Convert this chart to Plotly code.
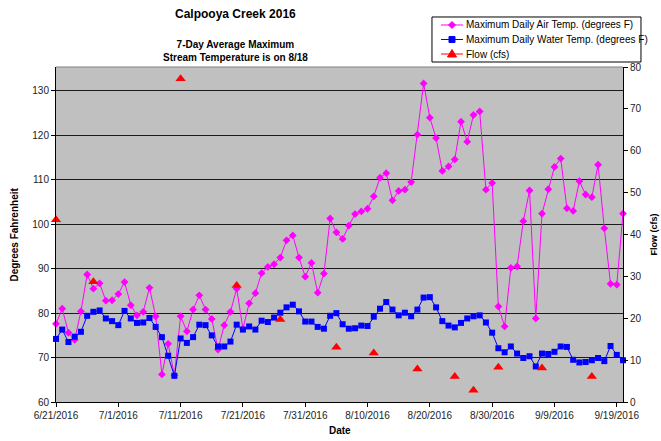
import plotly.graph_objects as go
import pandas as pd

start_date = "2016-06-21"

air_temp = [77.6, 81.0, 75.6, 74.0, 80.4, 88.7, 85.5, 86.7, 82.8, 82.9,
            84.3, 87.0, 81.8, 79.5, 80.3, 85.7, 79.3, 66.2, 73.1, 66.0,
            79.3, 75.9, 80.8, 84.0, 80.8, 78.7, 71.8, 77.3, 80.3, 85.5,
            76.5, 82.2, 84.5, 89.0, 90.4, 91.0, 92.5, 96.4, 97.5, 92.5,
            88.2, 91.3, 84.6, 88.9, 101.3, 98.2, 96.7, 99.7, 102.3, 102.9,
            103.5, 106.3, 110.5, 111.5, 105.4, 107.5, 107.8, 109.5, 120.2, 131.7,
            124.0, 119.4, 112.0, 113.0, 114.6, 123.1, 118.6, 124.6, 125.4, 107.8,
            109.3, 81.5, 77.0, 90.2, 90.5, 100.7, 107.6, 78.8, 102.4, 107.9,
            112.9, 114.8, 103.6, 103.0, 109.7, 106.7, 106.1, 113.4, 99.1, 86.6,
            86.4, 102.4]

water_temp = [74.2, 76.3, 73.5, 74.7, 75.8, 79.4, 80.3, 80.6, 78.8, 78.2,
              77.3, 80.5, 78.8, 77.8, 77.9, 78.9, 76.9, 74.6, 70.4, 65.9,
              74.3, 73.3, 74.6, 77.4, 77.3, 75.0, 72.5, 72.5, 73.6, 77.4,
              76.3, 77.0, 76.3, 78.3, 78.0, 79.0, 80.1, 81.3, 81.9, 80.4,
              78.1, 78.1, 76.9, 76.5, 79.4, 80.0, 77.5, 76.5, 76.6, 77.2,
              77.1, 79.2, 81.0, 82.5, 80.8, 79.5, 80.1, 79.3, 80.8, 83.5,
              83.6, 81.3, 78.2, 77.2, 76.8, 77.8, 78.8, 79.3, 79.5, 77.9,
              75.6, 72.1, 71.2, 72.5, 70.9, 69.9, 70.3, 68.0, 70.9, 70.8,
              71.3, 72.5, 72.4, 69.5, 68.9, 69.0, 69.4, 69.9, 69.2, 72.6,
              70.6, 69.4]

flow_dates = ["2016-06-21", "2016-06-27", "2016-07-11", "2016-07-20", "2016-07-27",
              "2016-08-05", "2016-08-11", "2016-08-18", "2016-08-24", "2016-08-27",
              "2016-08-31", "2016-09-07", "2016-09-15"]
flow_cfs = [43.5, 28.7, 77.2, 27.8, 19.7, 13.1, 11.7, 7.9, 6.1, 2.8, 8.3, 8.1, 6.1]

tick_dates = ["2016-06-21", "2016-07-01", "2016-07-11", "2016-07-21", "2016-07-31",
              "2016-08-10", "2016-08-20", "2016-08-30", "2016-09-09", "2016-09-19"]
tick_labels = ["6/21/2016", "7/1/2016", "7/11/2016", "7/21/2016", "7/31/2016",
               "8/10/2016", "8/20/2016", "8/30/2016", "9/9/2016", "9/19/2016"]

series_names = ["Maximum Daily Air Temp. (degrees F)",
                "Maximum Daily Water Temp. (degrees F)",
                "Flow (cfs)"]
series_colors = ["#FF00FF", "#0000FF", "#FF0000"]
series_symbols = ["diamond", "square", "triangle-up"]
series_sizes = [6, 6, 9]

# legend marker outlines (pixel paths around the anchor point)
legend_paths = {
    "diamond": "M0,3.5 L3.5,0 L0,-3.5 L-3.5,0 Z",
    "square": "M-3,-3 L3,-3 L3,3 L-3,3 Z",
    "triangle-up": "M-4.5,-3 L4.5,-3 L0,4.5 Z",
}

dates = pd.date_range(start_date, periods=len(air_temp), freq="D")

FONT = "Liberation Sans, Arial, sans-serif"

fig = go.Figure()
fig.add_trace(go.Scatter(
    x=dates, y=air_temp, mode="lines+markers", name=series_names[0],
    line=dict(color=series_colors[0], width=1),
    marker=dict(symbol=series_symbols[0], size=series_sizes[0], color=series_colors[0]),
    cliponaxis=False, showlegend=False))
fig.add_trace(go.Scatter(
    x=dates, y=water_temp, mode="lines+markers", name=series_names[1],
    line=dict(color=series_colors[1], width=1),
    marker=dict(symbol=series_symbols[1], size=series_sizes[1], color=series_colors[1]),
    cliponaxis=False, showlegend=False))
fig.add_trace(go.Scatter(
    x=flow_dates, y=flow_cfs, mode="markers", name=series_names[2], yaxis="y2",
    marker=dict(symbol=series_symbols[2], size=series_sizes[2], color=series_colors[2]),
    cliponaxis=False, showlegend=False))

# --- custom legend box (paper coordinates) ---
box_x0, box_x1, box_y0, box_y1 = 0.6631, 1.0317, 1.0149, 1.1493
row_y = [1.1254, 1.0821, 1.0388]
sym_x0, sym_x1, sym_xc, text_x = 0.679, 0.7178, 0.6984, 0.7196

shapes = [dict(type="rect", xref="paper", yref="paper", x0=box_x0, x1=box_x1,
               y0=box_y0, y1=box_y1, line=dict(color="#000000", width=1),
               fillcolor="white", layer="below"),
          dict(type="line", xref="paper", yref="paper", x0=0, x1=1, y0=1, y1=1,
               line=dict(color="#808080", width=1))]
annotations = []
for name, col, sym, ry in zip(series_names, series_colors, series_symbols, row_y):
    shapes.append(dict(type="line", xref="paper", yref="paper", x0=sym_x0, x1=sym_x1,
                       y0=ry, y1=ry, line=dict(color=col, width=1)))
    shapes.append(dict(type="path", xref="paper", yref="paper",
                       xsizemode="pixel", ysizemode="pixel",
                       xanchor=sym_xc, yanchor=ry, path=legend_paths[sym],
                       fillcolor=col, line=dict(color=col, width=1)))
    annotations.append(dict(text=name, xref="paper", yref="paper", x=text_x, y=ry,
                            xanchor="left", yanchor="middle", showarrow=False,
                            font=dict(size=10, family=FONT, color="#000")))

annotations += [
    dict(text="<b>Calpooya Creek 2016</b>", xref="paper", yref="paper",
         x=0.316, y=1.157, xanchor="center", yanchor="middle", showarrow=False,
         font=dict(size=12, family=FONT, color="#000")),
    dict(text="<b>7-Day Average Maximum<br>Stream Temperature is on 8/18</b>",
         xref="paper", yref="paper", x=0.316, y=1.048, xanchor="center",
         yanchor="middle", showarrow=False,
         font=dict(size=10, family=FONT, color="#000")),
    dict(text="<b>Degrees Fahrenheit</b>", xref="paper", yref="paper",
         x=-0.074, y=0.5, xanchor="center", yanchor="middle", textangle=-90,
         showarrow=False, font=dict(size=10, family=FONT, color="#000")),
    dict(text="<b>Flow (cfs)</b>", xref="paper", yref="paper",
         x=1.053, y=0.5, xanchor="center", yanchor="middle", textangle=-90,
         showarrow=False, font=dict(size=9, family=FONT, color="#000")),
    dict(text="<b>Date</b>", xref="paper", yref="paper",
         x=0.5, y=-0.084, xanchor="center", yanchor="middle",
         showarrow=False, font=dict(size=10, family=FONT, color="#000")),
]

fig.update_layout(
    width=661, height=441,
    margin=dict(l=56, r=38, t=67, b=39, autoexpand=False),
    paper_bgcolor="white", plot_bgcolor="#C0C0C0",
    font=dict(family=FONT, size=10, color="#000000"),
    showlegend=False,
    xaxis=dict(type="date", range=["2016-06-21", "2016-09-20"],
               tickvals=tick_dates, ticktext=tick_labels,
               showgrid=False, zeroline=False,
               showline=True, linecolor="#000000", linewidth=1,
               ticks="outside", ticklen=4, tickcolor="#000000",
               tickfont=dict(size=10, color="#222")),
    yaxis=dict(range=[60, 135.4], tickvals=[60, 70, 80, 90, 100, 110, 120, 130],
               showgrid=True, gridcolor="#1a1a1a", gridwidth=1, zeroline=False,
               showline=True, linecolor="#000000", linewidth=1,
               ticks="outside", ticklen=4, tickcolor="#000000",
               tickfont=dict(size=10, color="#222")),
    yaxis2=dict(range=[0, 80], dtick=10, overlaying="y", side="right",
                showgrid=False, zeroline=False,
                showline=True, linecolor="#000000", linewidth=1,
                ticks="outside", ticklen=4, tickcolor="#000000",
                tickfont=dict(size=10, color="#222")),
    shapes=shapes,
    annotations=annotations,
)

fig.write_html("out.html",
               config={"displayModeBar": False},
               post_script="document.body.style.margin='0px';"
                           "document.documentElement.style.overflow='hidden';")
